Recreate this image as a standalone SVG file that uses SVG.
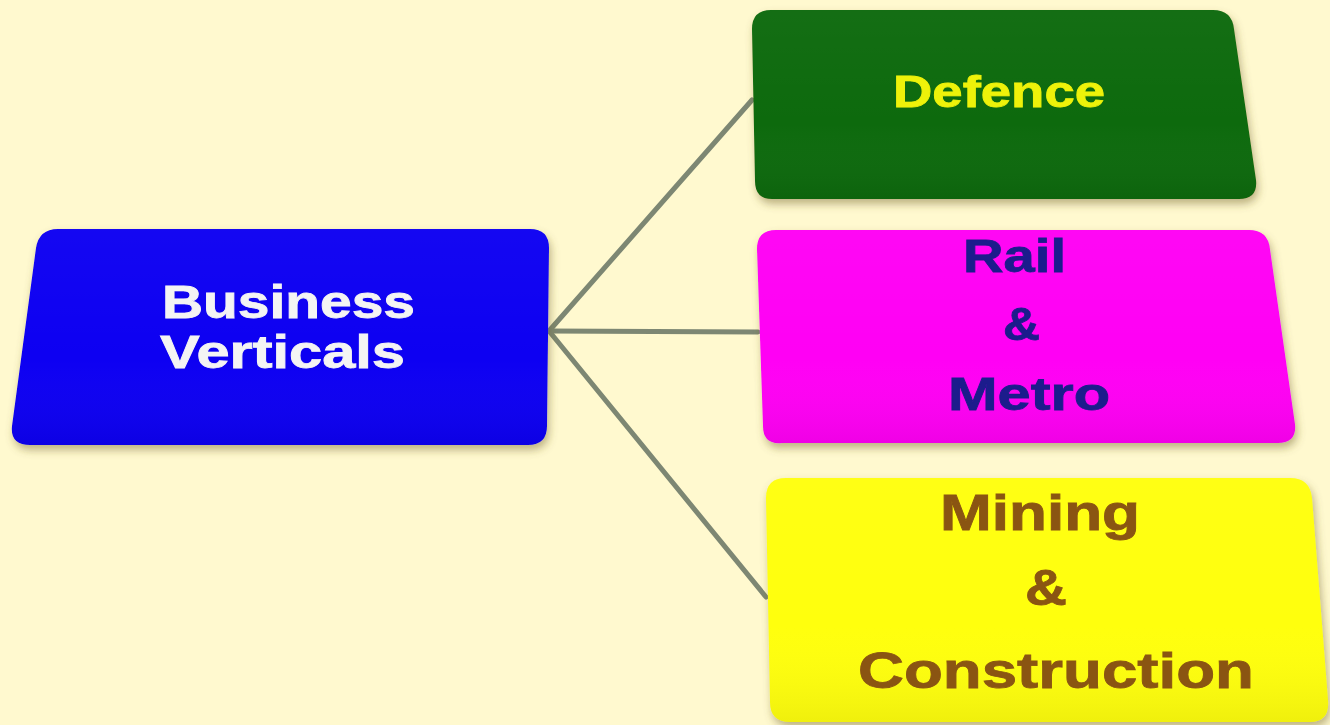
<svg xmlns="http://www.w3.org/2000/svg" width="1330" height="725" viewBox="0 0 1330 725">
<defs>
<filter id="sh" x="-10%" y="-10%" width="120%" height="130%">
<feDropShadow dx="2" dy="5" stdDeviation="4" flood-color="#6b5a20" flood-opacity="0.45"/>
</filter>
<linearGradient id="gloss" x1="0" y1="0" x2="0" y2="1">
<stop offset="0" stop-color="#ffffff" stop-opacity="0.03"/>
<stop offset="0.6" stop-color="#ffffff" stop-opacity="0"/>
<stop offset="1" stop-color="#000000" stop-opacity="0.06"/>
</linearGradient>
</defs>
<style>
.lbl{font-family:"Liberation Sans",Arial,sans-serif;font-weight:bold;stroke-width:0.8}
.conn{stroke:#7d8773;stroke-width:5;fill:none;stroke-linecap:round}
</style>
<rect width="1330" height="725" fill="#fff9cf"/>
<g id="connectors">
<line class="conn" x1="549" y1="331" x2="752" y2="100"/>
<line class="conn" x1="549" y1="331" x2="758" y2="332"/>
<line class="conn" x1="549" y1="331" x2="766" y2="597"/>
</g>
<g id="node-business">
<path filter="url(#sh)" fill="#0a00f2" d="M58,229 H530 Q549,229 549,248 L547,426 Q547,445 528,445 H30 Q10,445 12,426 L36,248 Q39,229 58,229 Z"/>
<path fill="url(#gloss)" d="M58,229 H530 Q549,229 549,248 L547,426 Q547,445 528,445 H30 Q10,445 12,426 L36,248 Q39,229 58,229 Z"/>
<text class="lbl" fill="#f4f4f4" stroke="#f4f4f4" font-size="46" x="162" y="318" textLength="253" lengthAdjust="spacingAndGlyphs">Business</text>
<text class="lbl" fill="#f4f4f4" stroke="#f4f4f4" font-size="46" x="160" y="368" textLength="245" lengthAdjust="spacingAndGlyphs">Verticals</text>
</g>
<g id="node-defence">
<path filter="url(#sh)" fill="#0d6b0f" d="M771,10 H1213 Q1232,10 1234,29 L1256,180 Q1258,199 1239,199 H774 Q755,200 755,181 L752,29 Q752,10 771,10 Z"/>
<path fill="url(#gloss)" d="M771,10 H1213 Q1232,10 1234,29 L1256,180 Q1258,199 1239,199 H774 Q755,200 755,181 L752,29 Q752,10 771,10 Z"/>
<text class="lbl" fill="#eef20a" stroke="#eef20a" font-size="44" x="893" y="107" textLength="212" lengthAdjust="spacingAndGlyphs">Defence</text>
</g>
<g id="node-rail">
<path filter="url(#sh)" fill="#ff00f4" d="M776,230 H1249 Q1268,230 1270,249 L1295,424 Q1297,443 1278,443 H782 Q763,445 763,426 L757,249 Q757,230 776,230 Z"/>
<path fill="url(#gloss)" d="M776,230 H1249 Q1268,230 1270,249 L1295,424 Q1297,443 1278,443 H782 Q763,445 763,426 L757,249 Q757,230 776,230 Z"/>
<text class="lbl" fill="#1c1c8c" stroke="#1c1c8c" font-size="46" x="963" y="272" textLength="103" lengthAdjust="spacingAndGlyphs">Rail</text>
<text class="lbl" fill="#1c1c8c" stroke="#1c1c8c" font-size="46" x="1003" y="340" textLength="37" lengthAdjust="spacingAndGlyphs">&amp;</text>
<text class="lbl" fill="#1c1c8c" stroke="#1c1c8c" font-size="46" x="948" y="410" textLength="162" lengthAdjust="spacingAndGlyphs">Metro</text>
</g>
<g id="node-mining">
<path filter="url(#sh)" fill="#ffff0a" d="M786,478 H1290 Q1310,478 1312,498 L1328,700 Q1330,722 1310,722 H790 Q770,722 770,702 L766,498 Q766,478 786,478 Z"/>
<path fill="url(#gloss)" d="M786,478 H1290 Q1310,478 1312,498 L1328,700 Q1330,722 1310,722 H790 Q770,722 770,702 L766,498 Q766,478 786,478 Z"/>
<text class="lbl" fill="#8a5512" stroke="#8a5512" font-size="50" x="940" y="530" textLength="200" lengthAdjust="spacingAndGlyphs">Mining</text>
<text class="lbl" fill="#8a5512" stroke="#8a5512" font-size="50" x="1025" y="605" textLength="42" lengthAdjust="spacingAndGlyphs">&amp;</text>
<text class="lbl" fill="#8a5512" stroke="#8a5512" font-size="50" x="858" y="688" textLength="396" lengthAdjust="spacingAndGlyphs">Construction</text>
</g>
</svg>
